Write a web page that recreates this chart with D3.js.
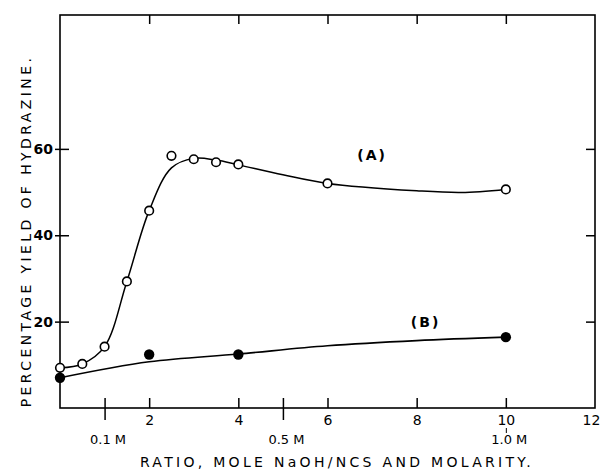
<!DOCTYPE html>
<html><head><meta charset="utf-8">
<script src="https://cdn.jsdelivr.net/npm/d3@7"></script>
<style>body{margin:0;background:#fff}svg{display:block}</style>
</head><body>
<svg id="c" width="602" height="471"></svg>
<script>
// Series A (open circles) - ratio vs % yield
const ratioA = [0, 0.5, 1, 1.5, 2, 2.5, 3, 3.5, 4, 6, 10];
const yieldA = [9.3, 10.2, 14.2, 29.3, 45.7, 58.4, 57.6, 56.9, 56.4, 52.0, 50.6];
// Smooth curve drawn through A
const curveAx = [0, 0.5, 1, 1.5, 2, 2.5, 3, 3.5, 4, 5, 6, 8, 9, 10];
const curveAy = [9.3, 10.2, 14.2, 29.3, 45.7, 55.6, 57.8, 57.4, 56.3, 54.0, 52.0, 50.3, 49.9, 50.6];
// Series B (filled circles)
const ratioB = [0, 2, 4, 10];
const yieldB = [7.0, 12.4, 12.4, 16.4];
const curveBx = [0, 2, 4, 6, 8, 10];
const curveBy = [7.0, 10.7, 12.5, 14.4, 15.6, 16.4];
// ticks
const xTicks = [2, 4, 6, 8, 10, 12];
const molTicks = [1, 5, 10];
const molLabels = ["0.1 M", "0.5 M", "1.0 M"];
const yTicks = [20, 40, 60];
const labelA = "(A)", labelB = "(B)";
const xTitle = "RATIO, MOLE NaOH/NCS AND MOLARITY.";
const yTitle = "PERCENTAGE YIELD OF HYDRAZINE.";

const svg = d3.select("#c");
const L = 60, R = 595, T = 15, B = 408;
const x = d3.scaleLinear().domain([0, 12]).range([L, R]);
const y = d3.scaleLinear().domain([0, 91]).range([B, T]);
const font = "'DejaVu Sans', sans-serif";

// frame
svg.append("rect").attr("x", L).attr("y", T).attr("width", R - L).attr("height", B - T)
  .attr("fill", "none").attr("stroke", "#000").attr("stroke-width", 1.6);

function style(g) {
  g.select(".domain").remove();
  g.selectAll("line").attr("stroke", "#000").attr("stroke-width", 1.5);
  g.selectAll("text").attr("font-family", font).attr("fill", "#000");
}
// left axis
const gl = svg.append("g").attr("transform", `translate(${L},0)`)
  .call(d3.axisLeft(y).tickValues(yTicks).tickSize(5).tickPadding(2).tickFormat(d3.format("d")));
style(gl);
gl.selectAll(".tick line").attr("x1", -5).attr("x2", 9);
gl.selectAll("text").attr("font-size", 14).attr("font-weight", "bold");
// right axis (inward)
const gr = svg.append("g").attr("transform", `translate(${R},0)`)
  .call(d3.axisRight(y).tickValues(yTicks).tickSize(-9).tickFormat(""));
style(gr);
// top axis (inward)
const gt = svg.append("g").attr("transform", `translate(0,${T})`)
  .call(d3.axisTop(x).tickValues([2, 4, 6, 8, 10]).tickSize(-9).tickFormat(""));
style(gt);
// bottom axis (inward ticks, labels below)
const gb = svg.append("g").attr("transform", `translate(0,${B})`)
  .call(d3.axisBottom(x).tickValues(xTicks).tickSize(0).tickPadding(7).tickFormat(d3.format("d")));
style(gb);
gb.selectAll(".tick").filter(d => d !== 12).append("line")
  .attr("y1", 0).attr("y2", -10).attr("stroke", "#000").attr("stroke-width", 1.5);
gb.selectAll("text").attr("font-size", 14).attr("dx", d => d === 12 ? -2 : 0)
  .attr("text-anchor", d => d === 12 ? "start" : "middle")
  .attr("x", d => d === 12 ? -11 : 0);
// molarity axis
const gm = svg.append("g").attr("transform", `translate(0,${B})`)
  .call(d3.axisBottom(x).tickValues(molTicks).tickSize(0).tickPadding(27)
    .tickFormat((d, i) => molLabels[i]));
style(gm);
gm.selectAll(".tick").append("line").attr("y1", d => d === 10 ? 20 : -10).attr("y2", d => d === 10 ? 25 : 12)
  .attr("stroke", "#000").attr("stroke-width", d => d === 10 ? 1 : 1.5);
gm.selectAll("text").attr("font-size", 13).attr("dx", 3);

// titles
svg.append("text").attr("x", 337).attr("y", 467).attr("text-anchor", "middle")
  .attr("font-family", font).attr("font-size", 14).attr("letter-spacing", 3.3).text(xTitle);
svg.append("text").attr("transform", `translate(31,${231}) rotate(-90)`).attr("text-anchor", "middle")
  .attr("font-family", font).attr("font-size", 14).attr("letter-spacing", 3.4).text(yTitle);

// curves
const line = d3.line().x(d => x(d[0])).y(d => y(d[1])).curve(d3.curveCatmullRom.alpha(0.5));
svg.append("path").datum(curveAx.map((v, i) => [v, curveAy[i]])).attr("d", line)
  .attr("fill", "none").attr("stroke", "#000").attr("stroke-width", 1.5);
svg.append("path").datum(curveBx.map((v, i) => [v, curveBy[i]])).attr("d", line)
  .attr("fill", "none").attr("stroke", "#000").attr("stroke-width", 1.6);

// points
svg.append("g").selectAll("circle").data(ratioA.map((v, i) => [v, yieldA[i]])).join("circle")
  .attr("cx", d => x(d[0])).attr("cy", d => y(d[1])).attr("r", 4.3)
  .attr("fill", "#fff").attr("stroke", "#000").attr("stroke-width", 1.6);
svg.append("g").selectAll("circle").data(ratioB.map((v, i) => [v, yieldB[i]])).join("circle")
  .attr("cx", d => x(d[0])).attr("cy", d => y(d[1])).attr("r", 5.2).attr("fill", "#000");

// labels
svg.append("text").attr("x", x(7)).attr("y", y(57.5)).attr("text-anchor", "middle")
  .attr("font-family", font).attr("font-size", 14).attr("font-weight", "bold").attr("letter-spacing", 2).text(labelA);
svg.append("text").attr("x", x(8.2)).attr("y", y(18.7)).attr("text-anchor", "middle")
  .attr("font-family", font).attr("font-size", 14).attr("font-weight", "bold").attr("letter-spacing", 2).text(labelB);
</script>
</body></html>
